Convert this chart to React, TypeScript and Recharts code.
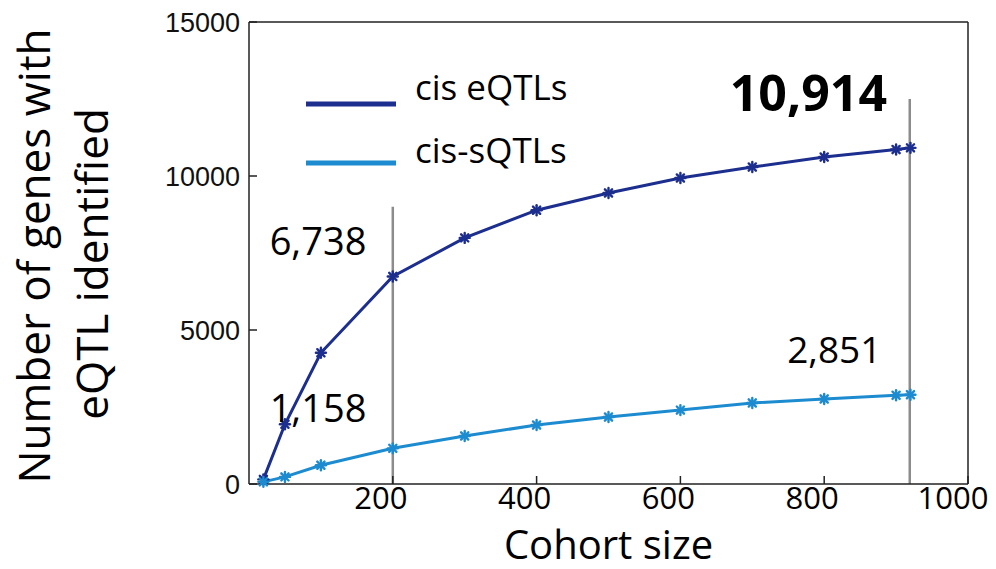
import { Legend, Line, LineChart, ReferenceDot, ReferenceLine, XAxis, YAxis } from 'recharts';

const cohortSize = [20, 50, 100, 200, 300, 400, 500, 600, 700, 800, 900, 920];
const cisEqtl = [150, 1940, 4260, 6738, 7990, 8890, 9450, 9935, 10290, 10615, 10860, 10914];
const cisSqtl = [70, 230, 610, 1158, 1560, 1915, 2175, 2400, 2630, 2760, 2880, 2900];
const xTicks = [200, 400, 600, 800, 1000];
const yTicks = [0, 5000, 10000, 15000];

const data = cohortSize.map((n, i) => ({ n, eqtl: cisEqtl[i], sqtl: cisSqtl[i] }));

const CAL = '"Open Sans", "Noto Sans", sans-serif';
const HEL = '"Liberation Sans", Arial, sans-serif';
const EQ = '#1c2e8e';
const SQ = '#1d8bcf';
const AX = '#222';

function StarDot(props: any) {
  const { cx, cy, stroke } = props;
  if (cx == null || cy == null) return null;
  const r = 5;
  const d = 3.6;
  return (
    <g stroke={stroke} strokeWidth={2.4} strokeLinecap="round">
      <line x1={cx - r} y1={cy} x2={cx + r} y2={cy} />
      <line x1={cx} y1={cy - r} x2={cx} y2={cy + r} />
      <line x1={cx - d} y1={cy - d} x2={cx + d} y2={cy + d} />
      <line x1={cx - d} y1={cy + d} x2={cx + d} y2={cy - d} />
    </g>
  );
}

function LegendBox({ payload }: any) {
  const lineY = [44, 103];
  const textY = [40, 103];
  return (
    <svg width={320} height={140} style={{ overflow: 'visible', display: 'block' }}>
      {(payload || []).map((p: any, i: number) => (
        <g key={p.value}>
          <line x1={6} x2={96} y1={lineY[i]} y2={lineY[i]} stroke={p.color} strokeWidth={5} />
          <text x={115} y={textY[i]} fontSize={35} fontFamily={CAL} fill="#000">
            {p.value}
          </text>
        </g>
      ))}
    </svg>
  );
}

function YLabel({ viewBox }: any) {
  const cy = viewBox.y + viewBox.height / 2;
  return (
    <g fontFamily={CAL} fontSize={44} fill="#000" textAnchor="middle">
      <text transform={`translate(50,${cy + 3}) rotate(-90)`}>Number of genes with</text>
      <text transform={`translate(108,${cy + 11}) rotate(-90)`}>eQTL identified</text>
    </g>
  );
}

function XLabel({ viewBox }: any) {
  return (
    <text x={viewBox.x + viewBox.width / 2} y={viewBox.y + 75} textAnchor="middle" fontFamily={CAL} fontSize={40} fill="#000">
      Cohort size
    </text>
  );
}

const callout = (value: string, size: number, bold = false) => ({
  value,
  position: 'center' as const,
  fontSize: size,
  fontFamily: CAL,
  fontWeight: bold ? 700 : 400,
  fill: '#000',
});

export default function App() {
  return (
    <div style={{ position: 'absolute', left: 0, top: 0, width: 996, height: 569, background: '#fff' }}>
      <LineChart width={996} height={569} data={data} margin={{ top: 21, right: 27, bottom: 0, left: 0 }}>
        <XAxis
          dataKey="n"
          type="number"
          domain={[0, 1000]}
          ticks={xTicks}
          height={85}
          tickSize={-8}
          tickMargin={11}
          stroke={AX}
          strokeWidth={1.5}
          tick={{ fontSize: 31, fontFamily: CAL, fill: '#000', dx: -12 }}
          label={<XLabel />}
        />
        <XAxis
          xAxisId="top"
          orientation="top"
          dataKey="n"
          type="number"
          domain={[0, 1000]}
          ticks={xTicks}
          height={1}
          tickSize={-8}
          tick={false}
          stroke={AX}
          strokeWidth={1.5}
        />
        <YAxis
          type="number"
          domain={[0, 15000]}
          ticks={yTicks}
          width={249}
          tickSize={-8}
          tickMargin={17}
          stroke={AX}
          strokeWidth={1.5}
          tick={{ fontSize: 27, fontFamily: HEL, fill: '#111' }}
          label={<YLabel />}
        />
        <YAxis
          yAxisId="right"
          orientation="right"
          type="number"
          domain={[0, 15000]}
          ticks={yTicks}
          width={1}
          tickSize={-8}
          tick={false}
          stroke={AX}
          strokeWidth={1.5}
        />
        <ReferenceLine segment={[{ x: 200, y: 0 }, { x: 200, y: 9000 }]} stroke="#8c8c8c" strokeWidth={2.5} />
        <ReferenceLine segment={[{ x: 919, y: 0 }, { x: 919, y: 12500 }]} stroke="#8c8c8c" strokeWidth={2.5} />
        <Line
          name="cis eQTLs"
          dataKey="eqtl"
          stroke={EQ}
          strokeWidth={3}
          dot={<StarDot />}
          activeDot={false}
          isAnimationActive={false}
        />
        <Line
          name="cis-sQTLs"
          dataKey="sqtl"
          stroke={SQ}
          strokeWidth={3}
          dot={<StarDot />}
          activeDot={false}
          isAnimationActive={false}
        />
        <ReferenceDot x={96} y={7870} r={1} fill="none" stroke="none" label={callout('6,738', 38)} />
        <ReferenceDot x={96} y={2450} r={1} fill="none" stroke="none" label={callout('1,158', 38)} />
        <ReferenceDot x={814} y={4370} r={1} fill="none" stroke="none" label={callout('2,851', 37)} />
        <ReferenceDot x={778} y={12680} r={1} fill="none" stroke="none" label={callout('10,914', 50, true)} />
        <Legend
          layout="vertical"
          align="center"
          verticalAlign="middle"
          content={<LegendBox />}
          wrapperStyle={{ left: 300, top: 60, width: 320, height: 140 }}
        />
      </LineChart>
    </div>
  );
}
